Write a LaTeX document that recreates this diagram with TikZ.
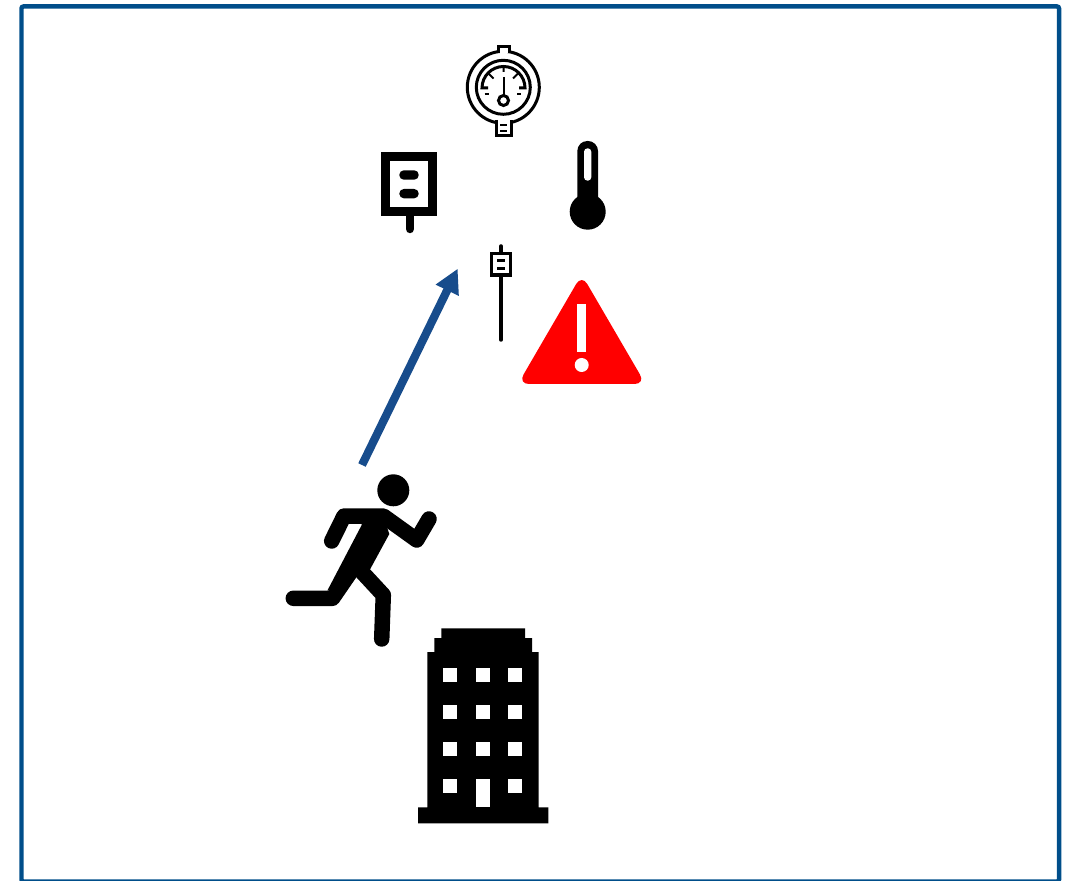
\documentclass[tikz,border=0pt]{standalone}
\usepackage{xcolor}
\usepackage{tikz}
\usetikzlibrary{arrows.meta}
\definecolor{frameblue}{HTML}{004E8A}
\definecolor{arrowblue}{HTML}{174C8C}
\definecolor{alertred}{HTML}{FF0000}
\tikzset{
  frameline/.style = {draw=frameblue, line width=0.09cm, rounded corners=0.04cm},
  gaugeline/.style = {draw=black, line width=0.06cm},
  gaugetick/.style = {draw=black, line width=0.04cm},
  solidicon/.style = {fill=black, draw=none},
  hole/.style      = {fill=white, draw=none},
  limb/.style      = {draw=black, line width=0.31cm, line cap=round, line join=round},
  stem/.style      = {draw=black, line cap=round},
  arr/.style       = {-{Triangle[length=0.48cm,width=0.48cm]}, draw=arrowblue, line width=0.165cm},
}
\begin{document}
\begin{tikzpicture}[x=0.02cm, y=-0.02cm]
  \useasboundingbox (0,0) rectangle (1074,881);

  % Outer frame
  \draw[frameline] (21.5,6.5) rectangle (1059,881.5);

  % Gauge
  \draw[gaugeline] (503.3,87.3) circle (36);
  \draw[gaugeline] (503.3,87.3) circle (27);
  \draw[gaugeline, fill=white] (498,53) -- (498,46.5) -- (509,46.5) -- (509,53);
  \draw[gaugeline, fill=white] (496,120) -- (496,136) -- (511,136) -- (511,120);
  \draw[gaugetick] (500,125.5) -- (507,125.5) (500,131) -- (507,131);
  \draw[gaugeline] (488,88) -- (482,88) arc (180:360:21.5) -- (519,88);
  \draw[gaugetick] (488,73) -- (493.5,78.5) (518.5,73) -- (513,78.5) (503.5,67) -- (503.5,72);
  \draw[gaugetick] (503.5,77) -- (503.5,96);
  \draw[gaugeline] (503.5,100.5) circle (5);
  \draw[gaugetick] (484.5,94.5) -- (488.5,94.5) (517,94.5) -- (521,94.5);

  % Large sensor
  \fill[solidicon] (381,151.7) rectangle (437,216.3);
  \fill[hole] (390.3,160.7) rectangle (427.7,207);
  \fill[solidicon, rounded corners=0.09cm] (399.3,170.3) rectangle (418.7,179.7);
  \fill[solidicon, rounded corners=0.09cm] (399.3,189) rectangle (418.7,198.3);
  \draw[stem, line width=0.17cm] (410,216) -- (410,229);

  % Thermometer
  \fill[solidicon] (587.7,211.7) circle (18);
  \fill[solidicon, rounded corners=0.2cm] (577.3,215) -- (577.3,141) -- (598,141) -- (598,215) -- cycle;
  \fill[hole, rounded corners=0.07cm] (584,180.7) -- (584,148.3) -- (591.3,148.3) -- (591.3,180.7) -- cycle;

  % Small sensor
  \draw[stem, line width=0.07cm] (501,246) -- (501,340);
  \fill[solidicon] (490,251.7) rectangle (512,276.7);
  \fill[hole] (493.3,255) rectangle (508.7,273.3);
  \fill[solidicon] (497.3,258.7) rectangle (504.7,262);
  \fill[solidicon] (497.3,266.7) rectangle (504.7,270);

  % Warning sign
  \fill[alertred, rounded corners=0.22cm] (581.7,274.5) -- (645.5,384) -- (518,384) -- cycle;
  \fill[hole] (577.3,304) rectangle (586,352.3);
  \fill[hole] (581.7,365) circle (7);

  % Arrow: runner to sensor
  \coordinate (runstart) at (362,465);
  \coordinate (runend) at (457.7,268.7);
  \draw[arr] (runstart) -- (runend);

  % Runner
  \fill[solidicon] (393.3,490.3) circle (16);
  \fill[solidicon] (361.7,516) -- (383.3,516) -- (389.3,534) -- (369.3,570.7)
    -- (352.7,576.7) -- (327.3,590.7) -- (361.7,525) -- cycle;
  \draw[limb] (331.7,541) -- (344,516) -- (383.3,516) -- (416.7,540) -- (429,519);
  \draw[limb] (354,567) -- (332.5,598.3) -- (293.3,598.3);
  \draw[limb] (362,572) -- (383.3,595) -- (381.7,639);

  % Building
  \fill[solidicon] (441.3,628.3) -- (525,628.3) -- (525,638) -- (532,638) -- (532,652)
    -- (538.7,652) -- (538.7,807.3) -- (548.3,807.3) -- (548.3,823.3) -- (418,823.3)
    -- (418,807.3) -- (427.3,807.3) -- (427.3,652) -- (434.3,652) -- (434.3,638)
    -- (441.3,638) -- cycle;
  \foreach \wx in {443.3,476,508.3} {
    \foreach \wy in {668.3,705.3,742.3} {
      \fill[hole] (\wx,\wy) rectangle +(14,14);
    }
  }
  \fill[hole] (443.3,779.3) rectangle +(14,14);
  \fill[hole] (476,779.3) rectangle (490,807.3);
  \fill[hole] (508.3,779.3) rectangle +(14,14);

\end{tikzpicture}
\end{document}
